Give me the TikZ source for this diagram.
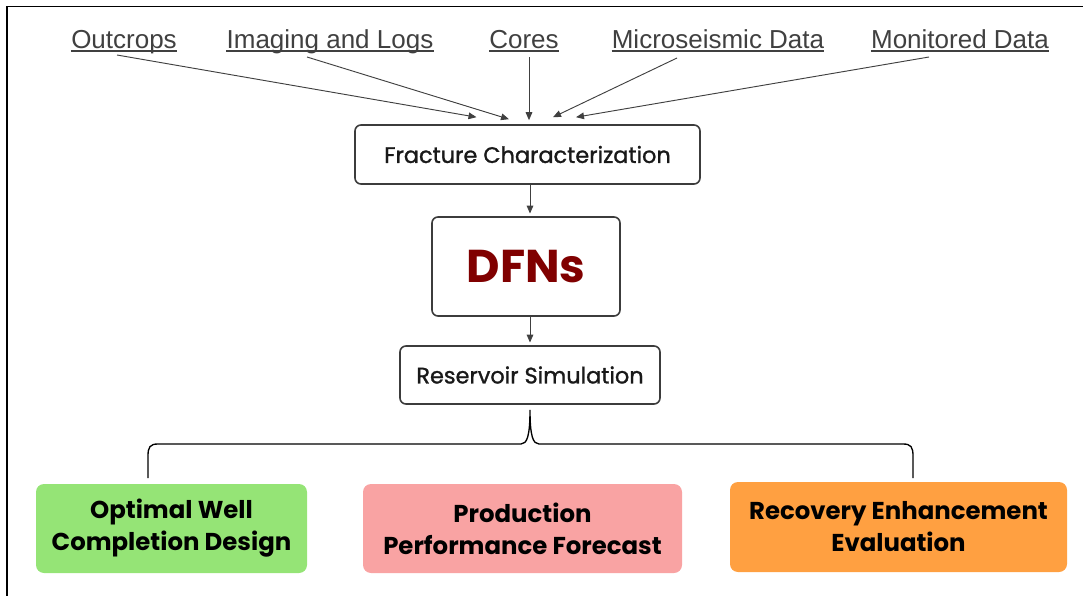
\documentclass[tikz,border=0pt]{standalone}
\usepackage{fontspec}
\usetikzlibrary{arrows.meta,calc}

\newfontfamily\lblfont{Liberation Sans}
\newfontfamily\boxfont{Poppins}
\newfontfamily\boxmedium{Poppins}[FakeBold=1.2]

\definecolor{lblgray}{HTML}{404040}
\definecolor{boxgray}{HTML}{3C3C3C}
\definecolor{dfnred}{HTML}{800000}
\definecolor{wellgreen}{HTML}{95E476}
\definecolor{prodpink}{HTML}{F9A3A3}
\definecolor{recorange}{HTML}{FFA041}

\newlength\mswidth

\tikzset{
  src/.style={font=\lblfont\fontsize{19.5pt}{22pt}\selectfont, text=lblgray,
              inner xsep=0pt, inner ysep=1pt, anchor=base},
  uline/.style={draw=lblgray, line width=1.1pt},
  flowbox/.style={draw=boxgray, line width=1.2pt, rounded corners=4.5pt, fill=white,
                  font=\boxmedium\fontsize{16.8pt}{19pt}\selectfont, align=center,
                  text=black!90, inner sep=0pt},
  outcome/.style={rounded corners=6pt, inner sep=0pt, align=center,
                  font=\boxfont\bfseries\fontsize{18.3pt}{24pt}\selectfont, text=black},
  feed/.style={draw=lblgray, line width=0.7pt, -{Triangle[length=6pt,width=5pt]}},
  brace/.style={draw=black, line width=1pt}
}

\begin{document}
\begin{tikzpicture}[x=0.75pt, y=-0.75pt]
\useasboundingbox (0,0) rectangle (1083,596);

% frame edges
\draw[line width=1.2pt] (7,596) -- (7,6.5) -- (1083,6.5);

% data sources
\node[src] (o) at (124,48) {Outcrops};
\node[src] (i) at (330,48) {Imaging and Logs};
\node[src] (c) at (524,48) {Cores};
\node[src] (m) at (718,48) {Microseismic Data};
\node[src] (d) at (960,48) {Monitored Data};

\settowidth{\mswidth}{\lblfont\fontsize{19.5pt}{22pt}\selectfont Microseismic}
\draw[red!85!black, dotted, line width=0.8pt] ([yshift=-0.5pt]m.base west) -- ++(\mswidth,0pt);
\foreach \n in {o,i,c,m,d}
  \draw[uline] ([yshift=-2.1pt]\n.base west) -- ([yshift=-2.1pt]\n.base east);

% workflow boxes
\node[flowbox, minimum width=258.75pt, minimum height=44.25pt] (fc) at (527.5,154.5)
  {Fracture Characterization};
\node[flowbox, minimum width=141pt, minimum height=74.25pt,
      font=\boxfont\bfseries\fontsize{34.5pt}{37pt}\selectfont, text=dfnred] (dfn) at (526,266.5) {DFNs};
\node[flowbox, minimum width=195pt, minimum height=43.5pt] (rs) at (530,375)
  {Reservoir Simulation};

% outcomes
\node[outcome, fill=wellgreen, minimum width=203.25pt, minimum height=66.75pt] (well) at (171.5,528.5)
  {Optimal Well\\Completion Design};
\node[outcome, fill=prodpink, minimum width=239.25pt, minimum height=66.75pt] (prod) at (522.5,528.5)
  {Production\\Performance Forecast};
\node[outcome, fill=recorange, minimum width=252.75pt, minimum height=67.5pt] (rec) at (898.5,527)
  {Recovery Enhancement\\Evaluation};

% data feeding the characterization
\draw[feed] ($(o.base)+(-7,7)$)   -- ($(fc.north)+(-51,-7)$);
\draw[feed] ($(i.base)+(-23,9)$)  -- ($(fc.north)+(-18.5,-5)$);
\draw[feed] ($(c.base)+(5,9)$)    -- ($(fc.north)+(1.5,-4)$);
\draw[feed] ($(m.base)+(-41,10)$) -- ($(fc.north)+(25.5,-7)$);
\draw[feed] ($(d.base)+(-31,9)$)  -- ($(fc.north)+(48.5,-7)$);

% main chain
\draw[feed, shorten >=2pt] (fc.south -| rs.north) -- (dfn.north -| rs.north);
\draw[feed, shorten >=2pt] (dfn.south -| rs.north) -- (rs.north);

% brace towards the outcomes
\coordinate (cusp) at ($(rs.south)+(0,5)$);
\coordinate (bl) at (148,478);
\coordinate (br) at (913,478);
\draw[brace] (bl) -- (148,456) .. controls (148,447) and (150,444) .. (158,444)
  -- (521,444) .. controls (527,444) and (530,436) .. (cusp)
  .. controls (530,436) and (533,444) .. (539,444)
  -- (903,444) .. controls (911,444) and (913,447) .. (913,456) -- (br);
\end{tikzpicture}
\end{document}
